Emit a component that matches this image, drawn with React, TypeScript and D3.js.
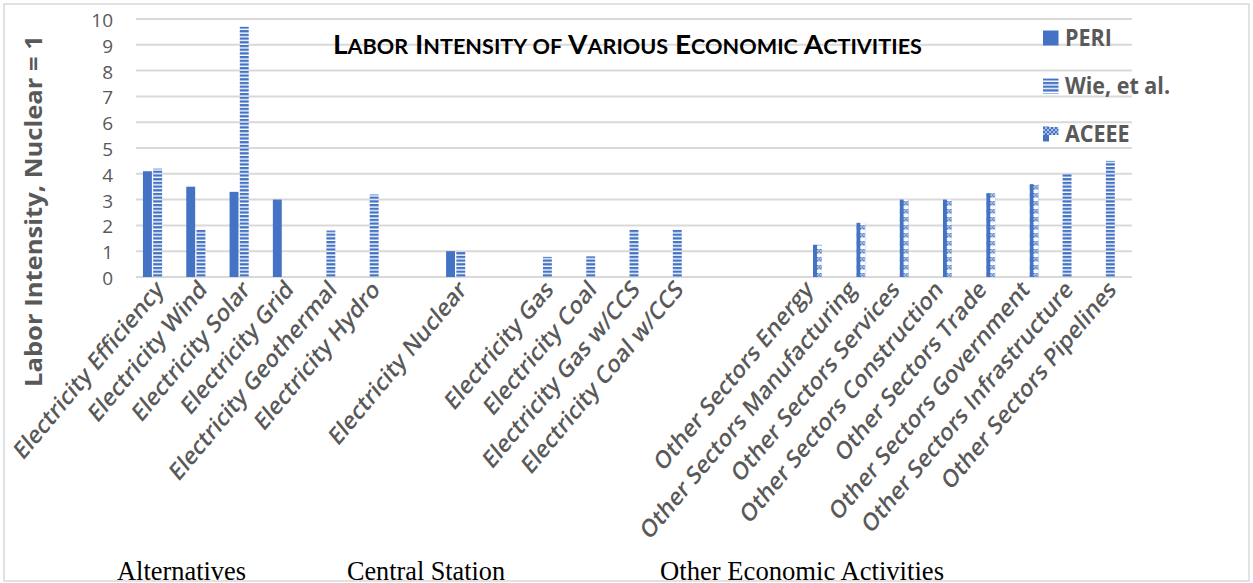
import React from "react";
import * as d3 from "d3";

const categories: string[] = [
  "Electricity Efficiency", "Electricity Wind", "Electricity Solar", "Electricity Grid",
  "Electricity Geothermal", "Electricity Hydro", "", "Electricity Nuclear", "",
  "Electricity Gas", "Electricity Coal", "Electricity Gas w/CCS", "Electricity Coal w/CCS",
  "", "", "Other Sectors Energy", "Other Sectors Manufacturing", "Other Sectors Services",
  "Other Sectors Construction", "Other Sectors Trade", "Other Sectors Government",
  "Other Sectors Infrastructure", "Other Sectors Pipelines",
];
const _ = null;
const periValues: (number | null)[] = [4.1, 3.5, 3.3, 3.0, _, _, _, 1.0, _, _, _, _, _, _, _, _, _, _, _, _, _, _, _];
const wieValues: (number | null)[] = [4.2, 1.85, 9.7, _, 1.8, 3.2, _, 0.97, _, 0.78, 0.8, 1.85, 1.85, _, _, _, _, _, _, _, _, 4.0, 4.5];
const aceeeValues: (number | null)[] = [_, _, _, _, _, _, _, _, _, _, _, _, _, _, _, 1.25, 2.1, 3.0, 3.0, 3.25, 3.6, _, _];
const seriesNames = ["PERI", "Wie, et al.", "ACEEE"];
const yTicks = [0, 1, 2, 3, 4, 5, 6, 7, 8, 9, 10];
const groupLabels = ["Alternatives", "Central Station", "Other Economic Activities"];
const title = "Labor Intensity of Various Economic Activities";
const yTitle = "Labor Intensity, Nuclear = 1";

const BLUE = "#4472C4";
const LIGHT = "#A9BFE6";
const GRID = "#D9D9D9";
const TEXT = "#595959";
const S = 1.2;

function SmallCaps({ text, big, small }: { text: string; big: number; small: number }) {
  const words = text.split(" ");
  const parts: React.ReactNode[] = [];
  words.forEach((w, i) => {
    const first = w[0];
    const rest = w.slice(1);
    const isUpperFirst = first === first.toUpperCase();
    parts.push(
      <tspan key={i + "a"} fontSize={isUpperFirst ? big : small}>
        {(i > 0 ? " " : "") + first.toUpperCase()}
      </tspan>
    );
    if (rest) parts.push(<tspan key={i + "b"} fontSize={small}>{rest.toUpperCase()}</tspan>);
  });
  return <>{parts}</>;
}

export default function App() {
  const W = 1253, H = 583;
  const x = d3.scaleBand<number>().domain(categories.map((_, i) => i)).range([136, 1132]).paddingInner(0).paddingOuter(0);
  const sub = d3.scaleBand<string>().domain(seriesNames).range([-14.7, 14.7]).paddingInner(0.13);
  const y = d3.scaleLinear().domain([0, 10]).range([277, 19]);
  const series = [periValues, wieValues, aceeeValues];
  const bw = sub.bandwidth();

  const bars: React.ReactNode[] = [];
  const aceeePatterns: React.ReactNode[] = [];
  series.forEach((vals, si) => {
    vals.forEach((v, ci) => {
      if (v == null) return;
      const cx = (x(ci) as number) + x.bandwidth() / 2;
      const bx = cx + (sub(seriesNames[si]) as number);
      const by = y(v);
      const h = y(0) - by;
      let fill = BLUE;
      if (si === 1) fill = "url(#wiePat)";
      if (si === 2) {
        const id = `ac${ci}`;
        aceeePatterns.push(
          <pattern key={id} id={id} patternUnits="userSpaceOnUse" x={bx} y={0} width={bw} height={8}>
            <rect x={0} y={0} width={bw} height={8} fill="#fff" />
            <rect x={0} y={0} width={bw * 0.45} height={8} fill={BLUE} />
            {[0, 1, 2].map((r) =>
              [0, 1, 2, 3, 4].map((c) => (
                <rect key={r + "-" + c} x={bw * 0.45 + c * 1.5} y={1 + r * 1.5} width={1.5} height={1.5}
                  fill={(r + c) % 2 === 0 ? BLUE : LIGHT} />
              ))
            )}
          </pattern>
        );
        fill = `url(#${id})`;
      }
      bars.push(<rect key={si + "-" + ci} x={bx} y={by} width={bw} height={h} fill={fill} />);
    });
  });

  const legendY = [38, 86, 134];

  return (
    <svg width={W} height={H} style={{ position: "absolute", left: 0, top: 0, background: "#fff" }}>
      <defs>
        <pattern id="wiePat" patternUnits="userSpaceOnUse" x={0} y={0.5} width={20} height={3.7}>
          <rect x={0} y={0} width={20} height={3.7} fill="#fff" />
          <rect x={0} y={0} width={20} height={2.3} fill={BLUE} />
        </pattern>
        <pattern id="acLeg" patternUnits="userSpaceOnUse" x={1043} y={127} width={16} height={15}>
          <rect x={0} y={0} width={16} height={15} fill="#fff" />
          <rect x={0} y={7} width={6} height={8} fill={BLUE} />
          {[0, 1, 2, 3].map((r) =>
            [0, 1, 2, 3, 4, 5, 6, 7].map((c) => (
              <rect key={r + "-" + c} x={c * 2} y={r * 2} width={2} height={2} fill={(r + c) % 2 === 0 ? BLUE : LIGHT} />
            ))
          )}
        </pattern>
        {aceeePatterns}
      </defs>
      <rect x={4} y={4} width={1245} height={577} fill="#fff" stroke={GRID} strokeWidth={1.5} />

      {yTicks.map((t) => (
        <line key={t} x1={136} x2={1132} y1={y(t)} y2={y(t)} stroke={GRID} strokeWidth={2} />
      ))}
      {yTicks.map((t) => (
        <text key={"t" + t} x={113} y={y(t) + 1} textAnchor="end" dominantBaseline="central"
          fontFamily="Open Sans" fontSize={19} fill={TEXT}>{t}</text>
      ))}

      {bars}

      {categories.map((c, i) => {
        if (!c) return null;
        const cx = (x(i) as number) + x.bandwidth() / 2;
        return (
          <g key={"c" + i} transform={`translate(${cx + 7},${291}) scale(1,${S}) rotate(-45)`}>
            <text textAnchor="end" fontFamily="Open Sans" fontWeight={600} fontSize={21} fill={TEXT}>{c}</text>
          </g>
        );
      })}

      <g transform={`translate(42,211) rotate(-90)`}>
        <text textAnchor="middle" fontFamily="Open Sans" fontWeight={700} fontSize={24} fill={TEXT}
          textLength={352} lengthAdjust="spacingAndGlyphs">{yTitle}</text>
      </g>

      <g transform={`translate(333,54) scale(1,${S})`}>
        <text x={0} y={0} fontFamily="Lato" fontWeight={700} fill="#000" textLength={589} lengthAdjust="spacingAndGlyphs">
          <SmallCaps text={title} big={22} small={17} />
        </text>
      </g>

      {seriesNames.map((n, i) => (
        <g key={"l" + i}>
          <rect x={1043} y={legendY[i] - 7.5} width={15.5} height={15}
            fill={i === 0 ? BLUE : i === 1 ? "url(#wiePat)" : "url(#acLeg)"} />
          <g transform={`translate(1065,${legendY[i] + 7.5}) scale(1,1.1)`}>
            <text fontFamily="Open Sans" fontWeight={700} fontSize={21.5} fill={TEXT}>{n}</text>
          </g>
        </g>
      ))}

      {groupLabels.map((g, i) => {
        const xs = [117, 347, 660];
        const ws = [129, 158, 284];
        return (
          <g key={"g" + i} transform={`translate(${xs[i]},580) scale(1,1.25)`}>
            <text fontFamily="Liberation Serif" fontSize={22} fill="#000" textLength={ws[i]} lengthAdjust="spacingAndGlyphs">{g}</text>
          </g>
        );
      })}
    </svg>
  );
}
